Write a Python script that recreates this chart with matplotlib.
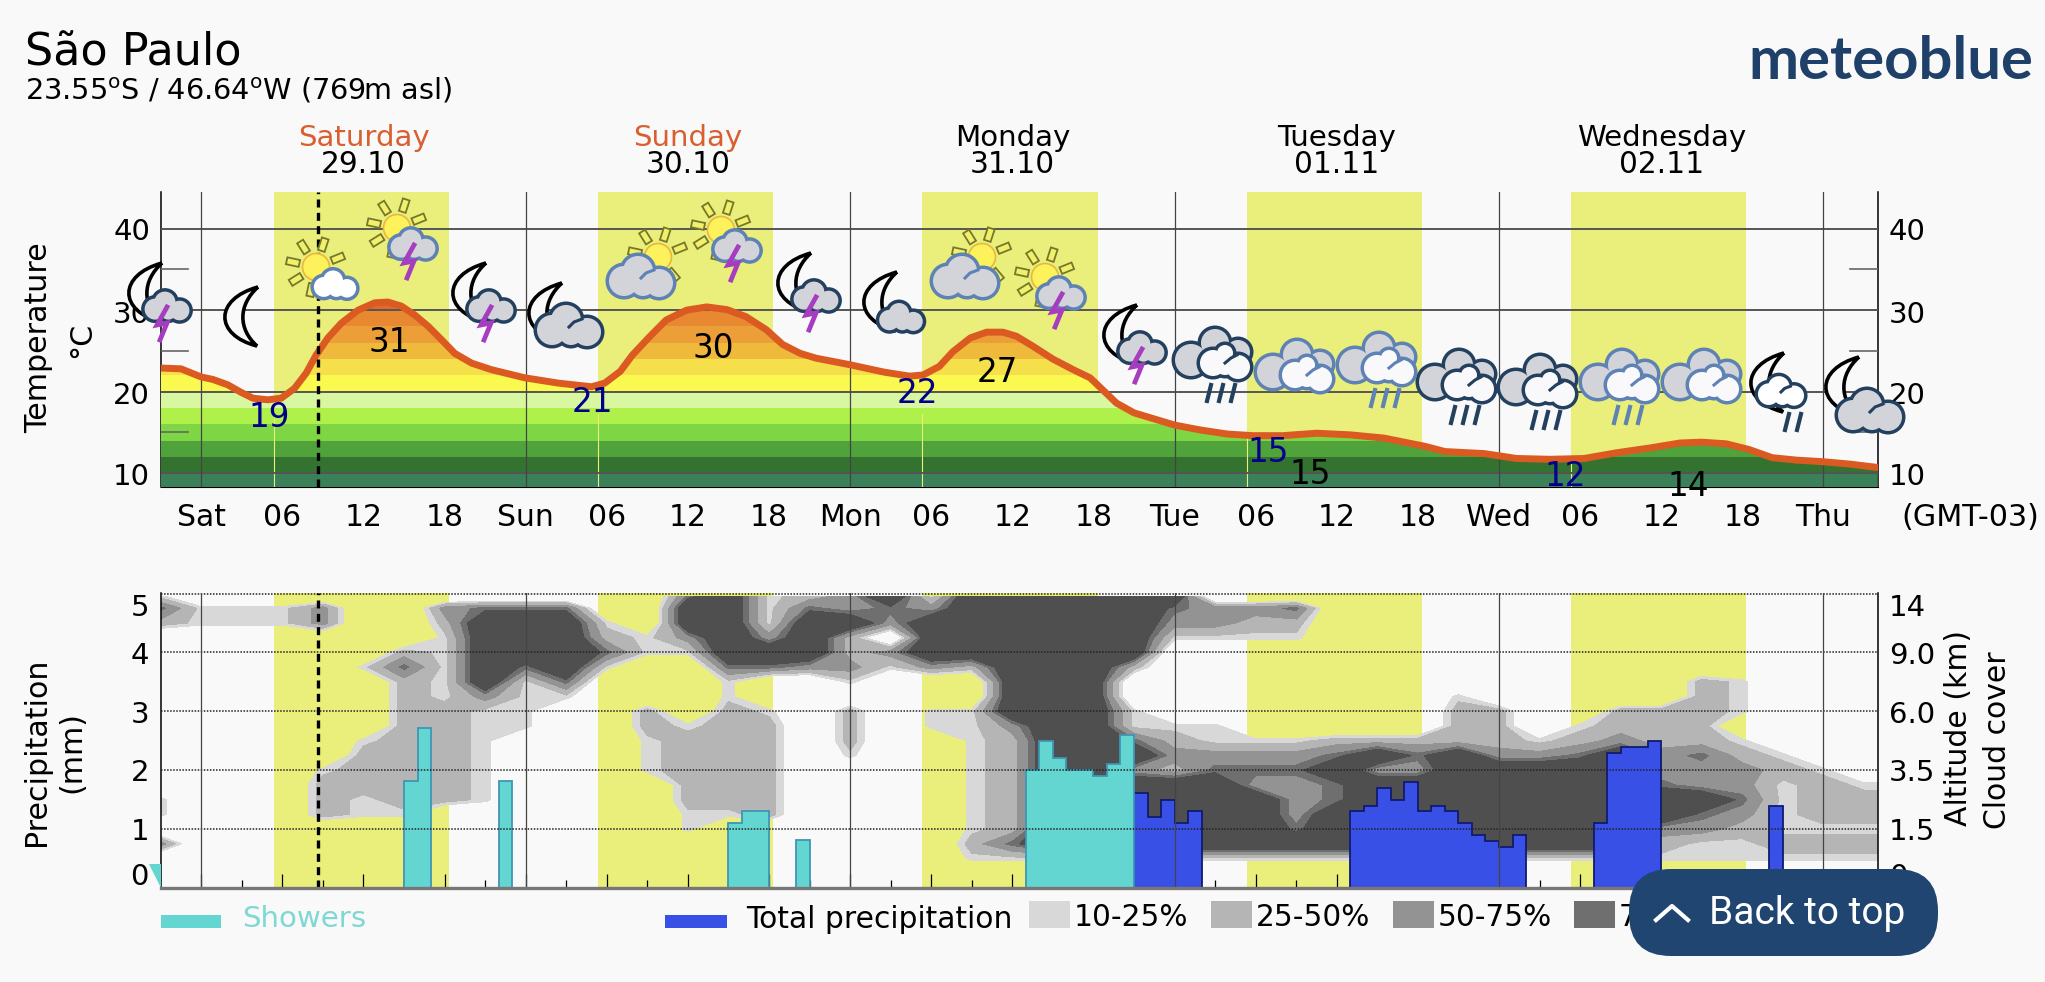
import numpy as np
import matplotlib
matplotlib.use('Agg')
import matplotlib.pyplot as plt
from matplotlib.patches import Circle, Polygon, PathPatch, FancyBboxPatch, Rectangle
from matplotlib.path import Path
from matplotlib.transforms import blended_transform_factory

W, H = 2045, 982
BG = '#f9f9f9'

# temperature curve (hours since Saturday 00:00, deg C)
temp_hours = [-3, -1.5, 0, 0.86, 1.95, 2.96, 3.82, 4.93, 5.92, 6.9, 7.77, 8.5, 9.37, 10.36, 11.6, 12.83, 13.8, 14.8,
              15.8, 16.8, 17.76, 18.75, 20, 21.46, 23.93, 26.4, 28.87, 29.85, 31, 31.9, 33.2, 34.4, 35.9, 37.4, 38.9,
              40.3, 41.8, 43, 44.3, 45.5, 48, 50.5, 52.4, 53.4, 54.6, 55.6, 56.9, 58.1, 59.3, 60.3, 61.5, 63, 64.5,
              65.75, 66.7, 67.7, 69, 70.2, 72, 73.9, 75.9, 77.8, 80, 82.5, 85, 87.5, 88.7, 90.5, 92, 94.9, 97.3, 99.8,
              102.3, 104.7, 107.2, 109.4, 111, 112.8, 114.5, 116.2, 118, 120, 122, 124]
temp_values = [22.9, 22.8, 21.8, 21.5, 20.85, 19.9, 19.2, 19.0, 19.2, 20.4, 22.3, 24.5, 26.6, 28.4, 30, 30.9, 31, 30.5,
               29.4, 28, 26.4, 24.7, 23.5, 22.7, 21.7, 21.05, 20.6, 21.05, 22.5, 24.5, 26.8, 28.8, 30, 30.4, 30.06,
               29.2, 27.6, 25.8, 24.7, 24.1, 23.3, 22.4, 21.9, 22.05, 23.1, 24.9, 26.6, 27.3, 27.3, 26.8, 25.6, 24,
               22.7, 21.7, 20.2, 18.6, 17.4, 16.8, 15.9, 15.3, 14.8, 14.6, 14.6, 14.9, 14.7, 14.3, 13.9, 13.3, 12.65,
               12.4, 11.8, 11.7, 11.8, 12.5, 13.1, 13.7, 13.8, 13.6, 12.9, 11.9, 11.6, 11.4, 11.1, 10.7]
temp_labels = ['19', '31', '21', '30', '22', '27', '15', '15', '12', '14']
temp_label_hours = [5, 13.9, 28.9, 37.9, 53, 58.9, 78.9, 82, 100.9, 110]
temp_label_values = [16.8, 26.0, 18.7, 25.3, 19.8, 22.3, 12.5, 9.8, 9.6, 8.4]
temp_label_cold = [True, False, True, False, True, False, True, False, True, False]

band_edges = [8, 10, 12, 14, 16, 18, 20, 22, 24, 26, 28, 30, 34]
band_colors = ['#3a8058', '#33732f', '#4fa33a', '#7fd644', '#b0f04a', '#d9f7a1', '#f9f94f', '#f5e04c',
               '#efba3c', '#ec9f38', '#e88830', '#e2692b']

day_names = ['Saturday', 'Sunday', 'Monday', 'Tuesday', 'Wednesday']
day_dates = ['29.10', '30.10', '31.10', '01.11', '02.11']
day_colors = ['#d95f30', '#d95f30', 'black', 'black', 'black']
tick_hours = [0, 6, 12, 18, 24, 30, 36, 42, 48, 54, 60, 66, 72, 78, 84, 90, 96, 102, 108, 114, 120]
tick_names = ['Sat', '06', '12', '18', 'Sun', '06', '12', '18', 'Mon', '06', '12', '18', 'Tue', '06', '12', '18',
              'Wed', '06', '12', '18', 'Thu']
sunrise = [5.35, 29.35, 53.35, 77.35, 101.35]
sunset = [18.3, 42.3, 66.3, 90.3, 114.3]

# precipitation, one value per hour (start hour of the bin)
shower_hours = [15, 16, 22, 39, 40, 41, 44, 61, 62, 63, 64, 65, 66, 67, 68]
shower_mm = [1.81, 2.71, 1.81, 1.1, 1.31, 1.31, 0.81, 2.0, 2.5, 2.2, 2.0, 2.0, 1.9, 2.1, 2.6]
total_hours = [69, 70, 71, 72, 73, 85, 86, 87, 88, 89, 90, 91, 92, 93, 94, 95, 96, 97, 103, 104, 105, 106, 107, 116]
total_mm = [1.61, 1.2, 1.5, 1.1, 1.3, 1.3, 1.4, 1.7, 1.5, 1.8, 1.3, 1.4, 1.3, 1.1, 0.9, 0.8, 0.7, 0.9, 1.1, 2.3, 2.4,
            2.4, 2.5, 1.4]

# cloud cover class per time column, top to bottom (0 none ... 5 densest)
cloud_hours = list(range(-3, 127, 3))
cloud_rows = [4.95, 4.75, 4.5, 4.25, 4.0, 3.75, 3.5, 3.25, 3.0, 2.75, 2.5, 2.25, 2.0, 1.75, 1.5, 1.25, 1.0, 0.75, 0.5,
              0.25, 0.0]
cloud_columns = [
    '142000000000001103000', '011000000000000000000', '011000000000000000000', '011000000000000000000',
    '033000000000122200000', '000001000012221100000', '000024222222222100000', '032111112222222000000',
    '045555531111111000000', '045554111100000000000', '045555410000000000000', '001241000000000000000',
    '000110002211100000000', '455310000122222110000', '555554112222222100000', '111354001222222200000',
    '245553000000000000000', '335223102221000000000', '543031000000000000000', '135553001100000000000',
    '555552001111111112100', '555555555322222224100', '555555555555555555100', '555555555555555555100',
    '555552001145355555100', '543100000123255555100', '033100000113455555100', '032100000013435555100',
    '042100000013433345100', '000000000024544555100', '000000000025355555100', '000000000024355555100',
    '000000012225555555100', '000000002223555555100', '000000000013555555100', '000000000124555555100',
    '000000002235555555100', '000000002223345532100', '000000222224335431100', '000000111012334321100',
    '000000000001211112100', '000000000000122212100', '000000000000012212100', '000000000000012212100',
]
cloud_percent = [-40, 18, 38, 62, 82, 130]
cloud_levels = [10, 25, 50, 75, 90, 131]
cloud_colors = ['#d8d8d8', '#b5b5b5', '#939393', '#6f6f6f', '#4f4f4f']
legend_names = ['10-25%', '25-50%', '50-75%', '75-90%']

precip_ticks = ['0', '1', '2', '3', '4', '5']
altitude_ticks = ['0', '1.5', '3.5', '6.0', '9.0', '14']

plt.rcParams['font.family'] = ['DejaVu Sans']
fig = plt.figure(figsize=(W / 100, H / 100), dpi=100, facecolor=BG)


def axes_px(left, top, right, bottom):
    return fig.add_axes([left / W, 1 - bottom / H, (right - left) / W, (bottom - top) / H], facecolor=BG)


ax1 = axes_px(160.7, 192, 1877.5, 487)
ax2 = axes_px(160.7, 593, 1877.5, 888)
ov = fig.add_axes([0, 0, 1, 1], facecolor='none')
ov.set_xlim(0, W)
ov.set_ylim(H, 0)
ov.axis('off')

for ax in (ax1, ax2):
    ax.set_xlim(-3, 124)
    for a, b in zip(sunrise, sunset):
        ax.axvspan(a, b, color='#e9ef7a', lw=0, zorder=1)
    for h in range(0, 121, 24):
        ax.axvline(h, color='#444444', lw=0.9, zorder=6)
    ax.axvline(8.6, color='black', lw=2.4, ls=(0, (2.4, 1.6)), zorder=7)
    ax.spines['top'].set_visible(False)
    ax.spines['left'].set_linewidth(1.1)
    ax.spines['right'].set_linewidth(1.1)
    ax.set_xticks(np.arange(0, 124, 6))
    ax.set_xticks(np.arange(3, 124, 6), minor=True)
    ax.tick_params(axis='x', which='major', direction='in', length=10, width=0.9, labelbottom=False, zorder=8)
    ax.tick_params(axis='x', which='minor', direction='in', length=5.5, width=0.9, zorder=8)
    ax.set_yticks([])

# temperature panel
ax1.set_ylim(8.3, 44.5)
for h in [10, 20, 30, 40]:
    ax1.axhline(h, color='#555555', lw=1.4, zorder=5)
for h in [15, 25, 35]:
    ax1.plot([-3, -1], [h, h], color='#666666', lw=1.2, zorder=5)
    ax1.plot([122, 124], [h, h], color='#666666', lw=1.2, zorder=5)
under = ax1.fill_between(temp_hours, 8, temp_values, facecolor='none', lw=0, zorder=2)
for i in range(len(band_colors)):
    band = ax1.axhspan(band_edges[i], band_edges[i + 1], color=band_colors[i], lw=0, zorder=3)
    band.set_clip_path(under.get_paths()[0], under.get_transform())
for a in sunrise:
    ax1.plot([a, a], [8.3, 17.2], color='#e9ef7a', lw=0.8, zorder=4)
ax1.plot(temp_hours, temp_values, color='#da5a22', lw=5, zorder=6, solid_joinstyle='round')
for name, h, v, cold in zip(temp_labels, temp_label_hours, temp_label_values, temp_label_cold):
    ax1.text(h, v, name, color='#00008b' if cold else 'black', fontsize=23.5, ha='center', va='center', zorder=9,
             clip_on=False)

# cloud and precipitation panel
ax2.set_ylim(0, 5.01)
cloud_grid = np.array([[cloud_percent[int(c)] for c in col] for col in cloud_columns], dtype=float).T
ax2.contourf(cloud_hours, cloud_rows, cloud_grid, levels=cloud_levels, colors=cloud_colors, zorder=2)

shower_all = np.zeros(127)
total_all = np.zeros(127)
for h, v in zip(shower_hours, shower_mm):
    shower_all[h + 3] = v
for h, v in zip(total_hours, total_mm):
    total_all[h + 3] = v
edges = np.arange(-3, 125)
ax2.stairs(total_all, edges, fill=True, facecolor='#3850e6', zorder=3)
ax2.stairs(total_all, edges, color='#101a70', lw=1.3, zorder=3)
ax2.stairs(shower_all, edges, fill=True, facecolor='#64d6d2', zorder=3)
ax2.stairs(shower_all, edges, color='#3f95b5', lw=1.3, zorder=3)
for h in range(1, 6):
    ax2.axhline(h, color='#222222', lw=1.1, ls=(0, (1, 1)), zorder=5, clip_on=False)
ax2.spines['bottom'].set_color('#777777')
ax2.spines['bottom'].set_linewidth(2.4)
ax2.spines['bottom'].set_zorder(10)
ax2.fill([-3.9, -3, -3], [0.4, 0.4, 0], color='#64d6d2', clip_on=False, lw=0, zorder=4)

# text in pixel coordinates
ov.text(25, 53, 'São Paulo', fontsize=32, va='center', ha='left')
ov.text(25, 91, '23.55$^{\\mathrm{o}}$S / 46.64$^{\\mathrm{o}}$W (769m asl)', fontsize=20.7, va='center', ha='left')
tr = blended_transform_factory(ax1.transData, ov.transData)
for i in range(5):
    ov.text(12 + 24 * i, 138, day_names[i], color=day_colors[i], fontsize=21.1, ha='center', va='center', transform=tr)
    ov.text(12 + 24 * i, 164, day_dates[i], color='black', fontsize=21.3, ha='center', va='center', transform=tr)
for h, name in zip(tick_hours, tick_names):
    ov.text(h, 518, name, fontsize=21.5, ha='center', va='center', transform=tr)
ov.text(2039, 518, '(GMT-03)', fontsize=21.7, ha='right', va='center')
for v, y in zip(['10', '20', '30', '40'], [477, 396, 315, 232]):
    ov.text(150, y, v, fontsize=21, ha='right', va='center')
    ov.text(1889, y, v, fontsize=21, ha='left', va='center')
for p, a, y in zip(precip_ticks, altitude_ticks, [877, 832, 773, 715, 656, 608]):
    ov.text(149, y, p, fontsize=21, ha='right', va='center')
    ov.text(1889, y, a, fontsize=21, ha='left', va='center')
ov.text(39, 338, 'Temperature', fontsize=21.7, rotation=90, ha='center', va='center')
ov.text(82, 340, '°C', fontsize=21.7, rotation=90, ha='center', va='center')
ov.text(37, 752, 'Precipitation', fontsize=21.6, rotation=90, ha='center', va='center')
ov.text(72, 752, '(mm)', fontsize=21.6, rotation=90, ha='center', va='center')
ov.text(1959, 728, 'Altitude (km)', fontsize=21.5, rotation=90, ha='center', va='center')
ov.text(1998, 740, 'Cloud cover', fontsize=21.5, rotation=90, ha='center', va='center')
ov.text(2033, 79, 'meteoblue', color='#1f4068', fontsize=43, family='Lato', weight='bold', ha='right',
        va='baseline')

# legend
ov.add_patch(Rectangle((161, 915), 60, 13, color='#64d6d2', lw=0))
ov.text(242, 919, 'Showers', color='#7ed8d4', fontsize=21.1, va='center')
ov.add_patch(Rectangle((665, 915), 62, 13, color='#3850e6', lw=0))
ov.text(746, 919, 'Total precipitation', fontsize=21.4, va='center')
for x, name, col in zip([1029, 1211, 1393, 1574], legend_names, cloud_colors):
    ov.add_patch(Rectangle((x, 901), 41, 27, color=col, lw=0))
    ov.text(x + 45, 918, name, fontsize=21.3, va='center')

# back to top button
ov.add_patch(FancyBboxPatch((1629 + 42, 869 + 42), 309 - 84, 87 - 84, boxstyle='round,pad=42', facecolor='#1f4570',
                            lw=0, zorder=20, mutation_aspect=1))
ov.plot([1656, 1672, 1688], [920, 906, 920], color='white', lw=3, zorder=21)
ov.text(1709, 914, 'Back to top', color='white', fontsize=28, family='Roboto', va='center', zorder=21)


# weather icons, drawn at pixel positions
def moon(x, y):
    verts = [(x + 16, y - 30), (x - 28, y - 18), (x - 28, y + 18), (x + 15, y + 29),
             (x - 4, y + 12), (x - 4, y - 12), (x + 16, y - 30)]
    codes = [Path.MOVETO, Path.CURVE4, Path.CURVE4, Path.CURVE4, Path.CURVE4, Path.CURVE4, Path.CURVE4]
    ov.add_patch(PathPatch(Path(verts, codes), facecolor=BG, edgecolor='black', lw=2.6, zorder=10))


def sun(x, y):
    for a in [22, 72, 122, 168, 212, 258, 310]:
        r = np.radians(a)
        d = np.array([np.cos(r), -np.sin(r)])
        n = np.array([-d[1], d[0]])
        c = np.array([x, y])
        pts = [c + d * 17 + n * 3.5, c + d * 30 + n * 3.5, c + d * 30 - n * 3.5, c + d * 17 - n * 3.5]
        ov.add_patch(Polygon(pts, closed=True, facecolor='#f1f06a', edgecolor='#77772c', lw=1.3, zorder=10))
    ov.add_patch(Circle((x, y), 13.5, facecolor='#fdf25c', edgecolor='#e8b83e', lw=1.2, zorder=10))


def blobs_patch(x, y, blobs, outline, fill, s=1.0, z=11):
    for bx, by, r in blobs:
        ov.add_patch(Circle((x + bx * s, y + by * s), r * s + 3.5, color=outline, lw=0, zorder=z))
    for bx, by, r in blobs:
        ov.add_patch(Circle((x + bx * s, y + by * s), r * s, color=fill, lw=0, zorder=z))


def cloud(x, y, s, outline, fill='#d3d4d9', hook=False):
    blobs_patch(x, y, [(-17, 3, 15), (-3, -7, 15), (18, 5, 14), (2, 6, 12)], outline, fill, s)
    if hook:
        ov.plot([x, x + 5 * s, x + 13 * s], [y, y - 5 * s, y - 8 * s], color=outline, lw=2.2, zorder=11)


def bolt(x, y):
    ov.plot([x + 4, x - 6, x + 4, x - 3], [y - 16, y + 2, y, y + 17], color='#a63cc0', lw=3.4, zorder=12,
            solid_joinstyle='miter')


def rain(x, y, color, n=3):
    for i in range(n):
        ox = (i - (n - 1) / 2) * 12
        ov.plot([x + ox - 2, x + ox + 2], [y + 8, y - 8], color=color, lw=3, zorder=10)


def rain_cloud(x, y, outline, rain_at=True):
    if rain_at:
        rain(x + 8, y + 38, outline)
    blobs_patch(x, y, [(-22, 5, 16), (2, -12, 14), (25, -3, 12), (2, 4, 14)], outline, '#d3d4d9')
    blobs_patch(x, y, [(0, 8, 13), (25, 12, 12), (12, -2, 8), (12, 10, 10)], outline, '#f9f9fc', z=12)
    ov.plot([x + 12, x + 18, x + 24], [y + 8, y + 3, y], color=outline, lw=2.2, zorder=12)


NIGHT = '#24405f'
DAY = '#5f82b5'
for mx, my in [(146, 293), (470, 293), (795, 283), (1121, 335)]:
    moon(mx, my)
    cloud(mx + 21, my + 14, 0.7, NIGHT)
    bolt(mx + 17, my + 30)
moon(242, 317)
sun(316, 267)
cloud(335, 285, 0.66, DAY, fill='white')
for sx, sy in [(397, 228), (721, 230), (1045, 277)]:
    sun(sx, sy)
    cloud(sx + 16, sy + 17, 0.7, DAY)
    bolt(sx + 13, sy + 33)
moon(546, 313)
cloud(569, 327, 1.0, NIGHT, hook=True)
for sx, sy in [(658, 257), (982, 257)]:
    sun(sx, sy)
    cloud(sx - 17, sy + 21, 1.0, DAY, hook=True)
moon(881, 302)
cloud(901, 318, 0.68, NIGHT)
rain_cloud(1213, 355, NIGHT)
rain_cloud(1295, 367, DAY, rain_at=False)
rain_cloud(1377, 360, DAY)
rain_cloud(1457, 377, NIGHT)
rain_cloud(1538, 382, NIGHT)
rain_cloud(1620, 377, DAY)
rain_cloud(1702, 377, DAY, rain_at=False)
rain(1793, 422, NIGHT, n=2)
moon(1768, 383)
cloud(1781, 392, 0.72, NIGHT, fill='white', hook=True)
moon(1843, 387)
cloud(1870, 412, 1.0, NIGHT, hook=True)

fig.savefig('out.png', dpi=100, facecolor=BG)
